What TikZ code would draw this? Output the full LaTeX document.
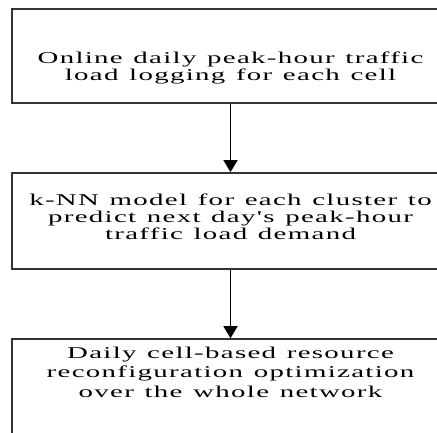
\documentclass[tikz,border=0pt]{standalone}
\usepackage{fontspec}
\newfontfamily\boxfont[FakeStretch=1.75,LetterSpace=8,WordSpace=1.25]{Liberation Serif}
\usetikzlibrary{arrows.meta, positioning}

\begin{document}
\begin{tikzpicture}[x=1pt, y=-1pt, node distance=68.5pt,
        stagebox/.style={draw=black!80, line width=1.6pt, rectangle, minimum width=437pt, inner sep=0pt, text width=437pt, align=flush center, font=\boxfont\fontsize{16.5pt}{17pt}\selectfont},
        flow/.style={line width=1.6pt, -{Triangle[width=14pt,length=12pt]}}]
        \useasboundingbox (0,0) rectangle (437,432);
        \clip (0,0) rectangle (437,432);

        % Traffic logging
        \node (logging) [stagebox, anchor=north, text height=55pt, text depth=39pt] at (230.5,8) {Online daily peak-hour traffic\\load logging for each cell};

        % Prediction per cluster
        \node (knn) [stagebox, below=of logging, text height=33pt, text depth=63pt] {k-NN model for each cluster to\\predict next day's peak-hour\\traffic load demand};

        % Network-wide optimization
        \node (reconfig) [stagebox, below=of knn, text height=19pt, text depth=90pt, font=\boxfont\fontsize{16.5pt}{19.5pt}\selectfont] {Daily cell-based resource\\reconfiguration optimization\\over the whole network};

        % Arrows
        \draw[flow] (logging) -- (knn);
        \draw[flow] (knn) -- (reconfig);
\end{tikzpicture}
\end{document}
